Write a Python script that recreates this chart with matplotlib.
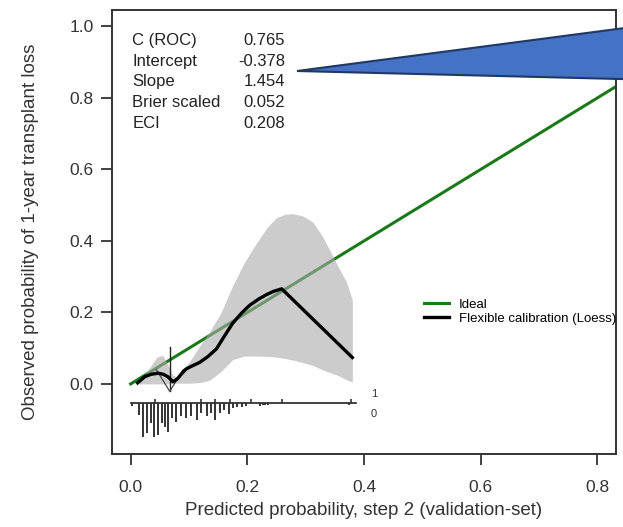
import matplotlib
matplotlib.use("Agg")
import matplotlib.pyplot as plt
from matplotlib.patches import Polygon

plt.rcParams['font.family'] = ['Liberation Sans', 'DejaVu Sans']

# Loess calibration curve
loess_x = [0.012, 0.024, 0.035, 0.047, 0.056, 0.064, 0.0725, 0.080, 0.087, 0.095, 0.105,
           0.118, 0.132, 0.147, 0.160, 0.175, 0.190, 0.204, 0.220, 0.233, 0.245, 0.259,
           0.380]
loess_y = [0.003, 0.020, 0.027, 0.030, 0.027, 0.020, 0.006, 0.014, 0.028, 0.042, 0.050,
           0.060, 0.076, 0.098, 0.132, 0.170, 0.198, 0.220, 0.238, 0.250, 0.259, 0.266,
           0.074]

# Confidence band of the loess curve
band_x = [0.015, 0.030, 0.045, 0.055, 0.065, 0.072, 0.080, 0.090, 0.100, 0.120, 0.135,
          0.155, 0.175, 0.195, 0.216, 0.235, 0.250, 0.265, 0.278, 0.295, 0.312, 0.328,
          0.341, 0.355, 0.370, 0.380]
band_lo = [0.000, 0.000, 0.000, 0.000, 0.000, 0.002, 0.002, 0.002, 0.002, 0.004, 0.010,
           0.035, 0.068, 0.078, 0.078, 0.077, 0.075, 0.071, 0.067, 0.060, 0.052, 0.040,
           0.032, 0.024, 0.012, 0.005]
band_hi = [0.006, 0.040, 0.075, 0.080, 0.050, 0.025, 0.020, 0.040, 0.060, 0.110, 0.145,
           0.200, 0.275, 0.340, 0.395, 0.440, 0.465, 0.475, 0.476, 0.470, 0.453, 0.415,
           0.375, 0.330, 0.285, 0.235]

# thin lines near x = 0.07
raw_v_x = [0.068, 0.068]
raw_v_y = [0.102, -0.021]
raw_w_x = [0.044, 0.067, 0.090]
raw_w_y = [0.040, -0.021, 0.040]

# spike histogram: non-events (down) and events (up)
spike0_x = [0.002, 0.0137, 0.021, 0.0286, 0.034, 0.040, 0.047, 0.054, 0.059, 0.064,
            0.071, 0.078, 0.087, 0.095, 0.104, 0.113, 0.121, 0.130, 0.137, 0.144,
            0.153, 0.160, 0.168, 0.175, 0.183, 0.190, 0.198, 0.221, 0.226, 0.231,
            0.235, 0.375]
spike0_len = [0.009, 0.035, 0.096, 0.085, 0.057, 0.096, 0.091, 0.057, 0.068, 0.082,
              0.043, 0.054, 0.039, 0.043, 0.039, 0.049, 0.029, 0.039, 0.029, 0.049,
              0.029, 0.021, 0.032, 0.015, 0.012, 0.012, 0.009, 0.011, 0.007, 0.006,
              0.006, 0.006]
spike1_x = [0.042, 0.121, 0.144, 0.170, 0.207, 0.259, 0.378]
spike1_len = [0.009, 0.009, 0.009, 0.009, 0.009, 0.009, 0.009]
spike_base = -0.052

stat_names = ["C (ROC)", "Intercept", "Slope", "Brier scaled", "ECI"]
stat_values = ["0.765", "-0.378", "1.454", "0.052", "0.208"]

GREEN = '#1a7a1a'

fig = plt.figure(figsize=(6.23, 5.27), dpi=100)
ax = fig.add_axes([112 / 623, 73 / 527, 504 / 623, 444 / 527])

ax.plot([0, 1], [0, 1], color=GREEN, lw=2.2, zorder=2, label="Ideal")
ax.fill_between(band_x, band_lo, band_hi, color='#aaaaaa', alpha=0.6, lw=0, zorder=3)
ax.plot(raw_v_x, raw_v_y, color='#222222', lw=1.0, zorder=4)
ax.plot(raw_w_x, raw_w_y, color='#444444', lw=0.9, zorder=4)
ax.plot(loess_x, loess_y, color='black', lw=2.4, zorder=5, solid_joinstyle='round',
        label="Flexible calibration (Loess)")

# spike histogram
ax.plot([0, 0.387], [spike_base, spike_base], color='#222222', lw=1.2, zorder=4)
ax.vlines(spike0_x, [spike_base - l for l in spike0_len], spike_base,
          color='#333333', lw=1.4, zorder=4)
ax.vlines(spike1_x, spike_base, [spike_base + l for l in spike1_len],
          color='#333333', lw=1.2, zorder=4)
ax.text(0.412, spike_base + 0.025, "1", fontsize=8, color='#333333', va='center', ha='left')
ax.text(0.412, spike_base - 0.031, "0", fontsize=8, color='#333333', va='center', ha='left')

# statistics table
row_y = [40.7, 61.7, 81.7, 102.7, 123.3]
for name, val, py in zip(stat_names, stat_values, row_y):
    ay = (454 - py) / 444
    ax.text(0.040, ay, name, transform=ax.transAxes, fontsize=12, va='center', ha='left',
            color='#222222')
    ax.text(0.343, ay, val, transform=ax.transAxes, fontsize=12, va='center', ha='right',
            color='#222222')

leg = ax.legend(loc='upper left', bbox_to_anchor=(305 / 504, (454 - 292) / 444),
                frameon=False, fontsize=9.5, handlelength=1.9, handletextpad=0.8,
                labelspacing=0.15, borderpad=0)

ax.set_xlim(-0.032, 0.832)
ax.set_ylim(-0.196, 1.046)
ax.set_xticks([0.0, 0.2, 0.4, 0.6, 0.8])
ax.set_yticks([0.0, 0.2, 0.4, 0.6, 0.8, 1.0])
ax.xaxis.set_major_formatter(plt.FormatStrFormatter('%.1f'))
ax.yaxis.set_major_formatter(plt.FormatStrFormatter('%.1f'))
ax.tick_params(direction='out', length=8, width=1.3, color='#333333', labelsize=12.5,
               labelcolor='#333333', pad=11)
ax.tick_params(axis='y', pad=5)
for sp in ax.spines.values():
    sp.set_linewidth(1.4)
    sp.set_color('#333333')

ax.set_xlabel("Predicted probability, step 2 (validation-set)", fontsize=13.5,
              color='#333333', labelpad=5)
ax.set_ylabel("Observed probability of 1-year transplant loss", fontsize=13.5,
              color='#333333', labelpad=22)

# blue callout pointer
tri = [(297, 71), (640, 26), (640, 79.5)]
fig.add_artist(Polygon([(x / 623, 1 - y / 527) for x, y in tri], closed=True,
                       transform=fig.transFigure, facecolor='#4472C4',
                       edgecolor='#1F3864', lw=1.5, zorder=10, clip_on=False))

fig.savefig("out.png", dpi=100)
